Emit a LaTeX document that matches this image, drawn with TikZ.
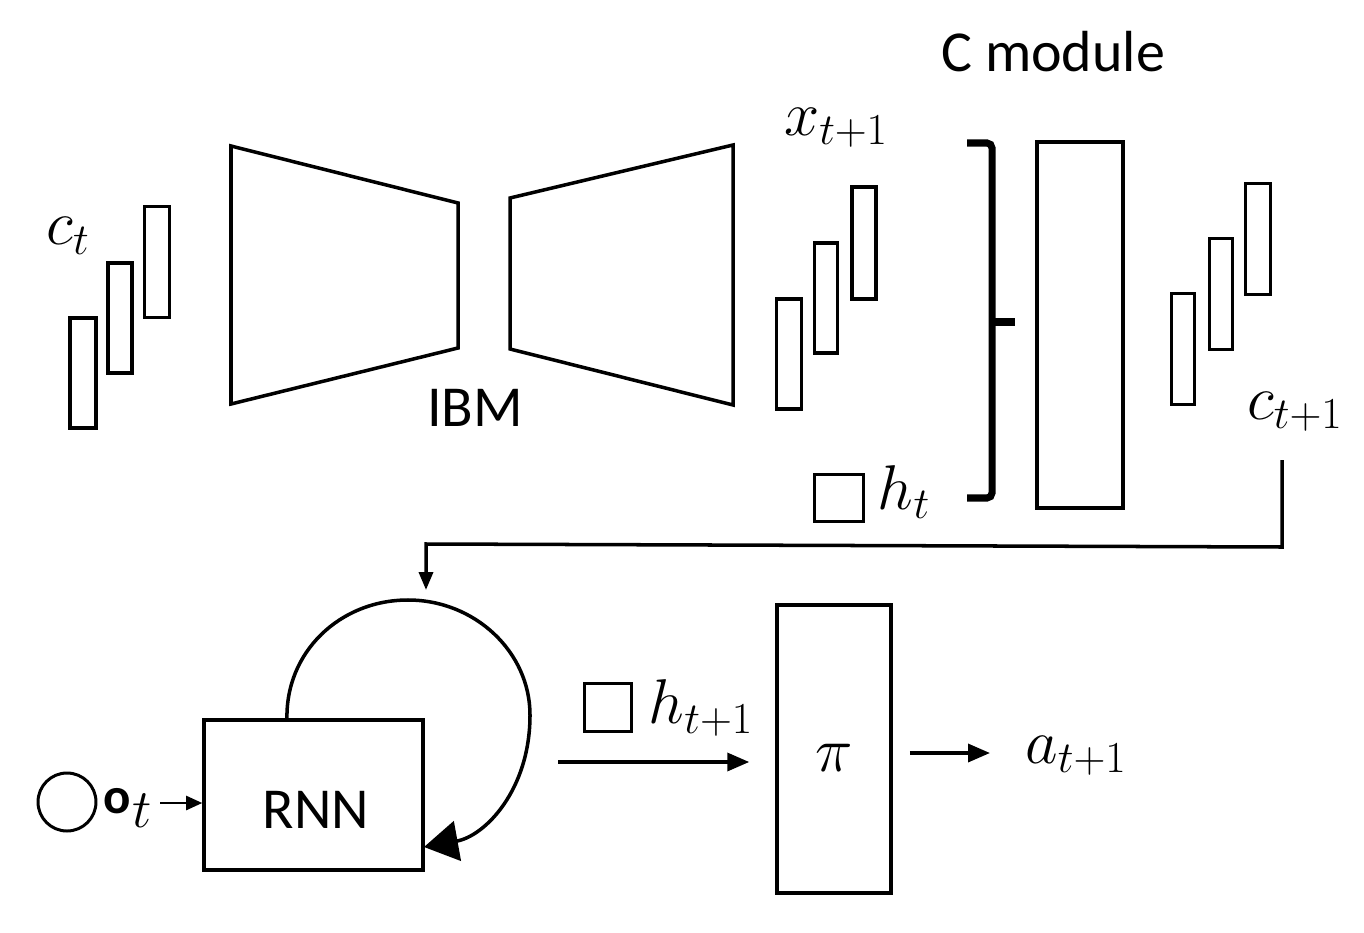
\RequirePackage{fix-cm}
\documentclass[tikz,border=0pt]{standalone}
\usepackage{fontspec}
\setmainfont{Carlito}
\usetikzlibrary{arrows.meta}
\begin{document}
\begin{tikzpicture}[x=0.02cm,y=-0.02cm,
  bar/.style={draw,line width=2pt,inner sep=0pt},
  txt/.style={inner sep=0pt,font=\fontsize{33}{40}\selectfont},
  mth/.style={inner sep=0pt,font=\fontsize{36}{44}\selectfont},
  conn/.style={line width=2pt},
]
\def\u{0.02cm}
\useasboundingbox (0,0) rectangle (1364,932);
% c_t bars
\node[bar,minimum width=26*\u,minimum height=110*\u] (ca) at (83,373) {};
\node[bar,minimum width=24*\u,minimum height=110*\u] (cb) at (120,318) {};
\node[bar,minimum width=25*\u,minimum height=111*\u] (cc) at (157,262) {};
\node[mth] (ct) at (68,236) {$c_t$};
% IBM encoder / decoder
\draw[line width=2pt,line join=miter] (231,146) -- (458,203) -- (458,348) -- (231,404) -- cycle;
\draw[line width=2pt,line join=miter] (510,198) -- (733,145) -- (733,405) -- (510,349) -- cycle;
\node[txt] (ibm) at (475,408) {IBM};
% x_{t+1}
\node[mth] (xl) at (836,128) {$x_{t+1}$};
\node[bar,minimum width=25*\u,minimum height=110*\u] (xa) at (789,354) {};
\node[bar,minimum width=23*\u,minimum height=110*\u] (xb) at (826,298) {};
\node[bar,minimum width=24*\u,minimum height=112*\u] (xc) at (864,243) {};
% brace
\draw[line width=4pt,rounded corners=5*\u] (967,143) -- (992,143) -- (992,498) -- (967,498);
\draw[line width=4pt] (992,322) -- (1015,322);
% C module
\node[bar,minimum width=86*\u,minimum height=366*\u] (cm) at (1080,325) {};
\node[txt] (cml) at (1053,52) {C module};
% c_{t+1}
\node[bar,minimum width=23*\u,minimum height=111*\u] (da) at (1183,349) {};
\node[bar,minimum width=23*\u,minimum height=111*\u] (db) at (1221,294) {};
\node[bar,minimum width=25*\u,minimum height=111*\u] (dc) at (1258,239) {};
\node[mth] (ctn) at (1295,412) {$c_{t+1}$};
% h_t
\node[bar,line width=1.7pt,minimum width=49*\u,minimum height=47*\u] (hb) at (839,498) {};
\node[mth] (ht) at (904,492) {$h_t$};
% feedback connector
\coordinate (fs) at (1282,460);
\coordinate (fe) at (426,590);
\draw[conn,-{Triangle[length=18*\u,width=14*\u]}] (fs) -- (1282,547) -- (426,544) -- (fe);
% RNN
\node[bar,minimum width=219*\u,minimum height=150*\u] (rnn) at (313.5,795) {};
\node[txt] (rnnl) at (316,810) {RNN};
\node[draw,circle,line width=1.7pt,minimum size=58*\u,inner sep=0pt] (ob) at (67,802) {};
\node[inner sep=0pt,anchor=base west] (ot) at (103,813) {\fontsize{29}{32}\selectfont\bfseries o\hspace{1pt}\raisebox{-8.5pt}{\fontsize{31}{36}\selectfont$t$}};
\draw[line width=1.3pt,-{Triangle[length=16*\u,width=14*\u]}] (160,803) -- (rnn.west |- 0,803);
% loop
\draw[line width=2pt,-{Triangle[length=34*\u,width=40*\u]}] (287,720) .. controls (285,652) and (340,600) .. (408,600) .. controls (475,600) and (530,652) .. (530,715) .. controls (530,790) and (485,836) .. (424,847);
% h_{t+1}
\node[bar,line width=1.7pt,minimum width=47*\u,minimum height=48*\u] (hb2) at (608,707) {};
\node[mth] (ht2) at (701,708) {$h_{t+1}$};
% pi
\node[bar,minimum width=114*\u,minimum height=288*\u] (pi) at (834,749) {};
\node[mth] (pil) at (834,758) {$\pi$};
\coordinate (hs) at (558,762);
\draw[conn,-{Triangle[length=22*\u,width=18*\u]}] (hs) -- ([xshift=-26*\u]pi.west |- hs);
\node[mth] (at) at (1076,756) {$a_{t+1}$};
\draw[conn,-{Triangle[length=22*\u,width=18*\u]}] ([xshift=17*\u]pi.east |- 0,753) -- (990,753);
\end{tikzpicture}
\end{document}
